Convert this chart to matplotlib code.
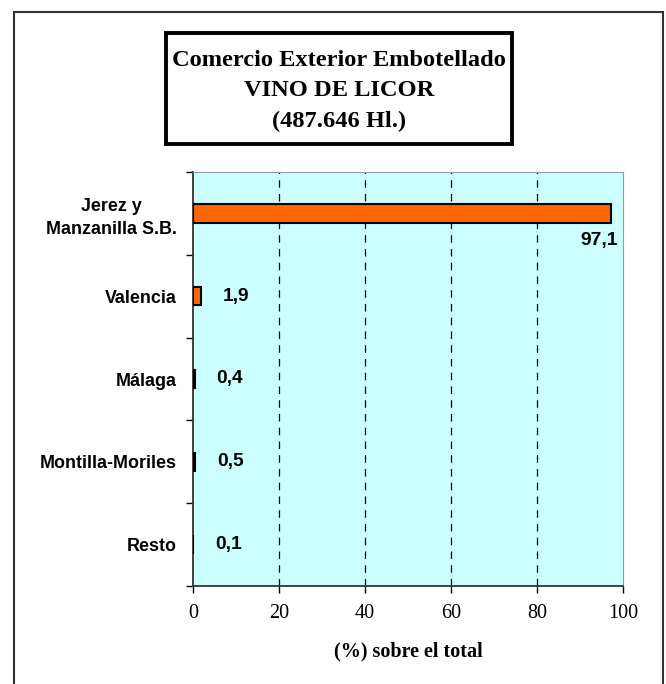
import matplotlib.pyplot as plt
from matplotlib.patches import Rectangle
from matplotlib.ticker import FixedLocator

# Data
categories = ["Jerez y\nManzanilla S.B.", "Valencia", "Málaga", "Montilla-Moriles", "Resto"]
values = [97.1, 1.9, 0.4, 0.5, 0.1]
value_labels = ["97,1", "1,9", "0,4", "0,5", "0,1"]
x_ticks = [0, 20, 40, 60, 80, 100]

title_lines = "Comercio Exterior Embotellado\nVINO DE LICOR\n(487.646 Hl.)"
x_label = "(%) sobre el total"

W, H = 666, 684
fig = plt.figure(figsize=(W / 100, H / 100), dpi=100)

# outer frame (cut off at the bottom, as in the source)
fig.patches.append(Rectangle((14 / W, -0.05), (663 - 14) / W, 1.05 - 12 / H,
                             transform=fig.transFigure, fill=False,
                             edgecolor="#333333", linewidth=1.5, clip_on=False))

# title box
fig.patches.append(Rectangle((166 / W, 1 - 144 / H), (512 - 166) / W, (144 - 33) / H,
                             transform=fig.transFigure, fill=False,
                             edgecolor="black", linewidth=2.8))
fig.text(339 / W, 1 - 91 / H, title_lines, ha="center", va="center",
         family="Liberation Serif", fontweight="bold", fontsize=17.6,
         linespacing=1.56)

ax = fig.add_axes([193 / W, 1 - 586 / H, (623 - 193) / W, (586 - 172) / H])
ax.set_facecolor("#CCFFFF")

ypos = list(range(len(categories)))
ax.barh(ypos, values, height=0.22, color="#FF6600", edgecolor="black",
        linewidth=1.5, zorder=3)

ax.set_xlim(0, 100)
ax.set_ylim(len(categories) - 0.5, -0.5)

ax.set_xticks(x_ticks)
ax.set_xticklabels([str(t) for t in x_ticks], family="Liberation Serif", fontsize=14.5)
ax.tick_params(axis="x", direction="out", length=5, width=1, pad=8)

ax.set_yticks(ypos)
ax.set_yticklabels(categories, family="Liberation Sans", fontweight="bold",
                   fontsize=12.9, multialignment="center", linespacing=1.45)
ax.yaxis.set_minor_locator(FixedLocator([i - 0.5 for i in range(len(categories) + 1)]))
ax.tick_params(axis="y", which="major", length=0, pad=11.5)
ax.tick_params(axis="y", which="minor", direction="out", length=5, width=1)

for g in x_ticks[1:-1]:
    ax.axvline(g, color="black", linestyle=(0, (6, 5)), linewidth=0.9, zorder=1)

ax.spines["left"].set_color("#333333")
ax.spines["bottom"].set_color("#333333")
ax.spines["left"].set_linewidth(1.3)
ax.spines["bottom"].set_linewidth(1.3)
ax.spines["top"].set_color("#999999")
ax.spines["right"].set_color("#999999")

ax.set_xlabel(x_label, family="Liberation Serif", fontweight="bold",
              fontsize=14.5, labelpad=13)

for i, (v, lab) in enumerate(zip(values, value_labels)):
    if v > 50:
        ax.annotate(lab, (v, i), xytext=(7, -27), textcoords="offset pixels",
                    ha="right", va="center", family="Liberation Sans",
                    fontweight="bold", fontsize=13.8, zorder=4)
    else:
        ax.annotate(lab, (v, i), xytext=(22, 0), textcoords="offset pixels",
                    ha="left", va="center", family="Liberation Sans",
                    fontweight="bold", fontsize=13.8, zorder=4)

fig.savefig("out.png", dpi=100)
